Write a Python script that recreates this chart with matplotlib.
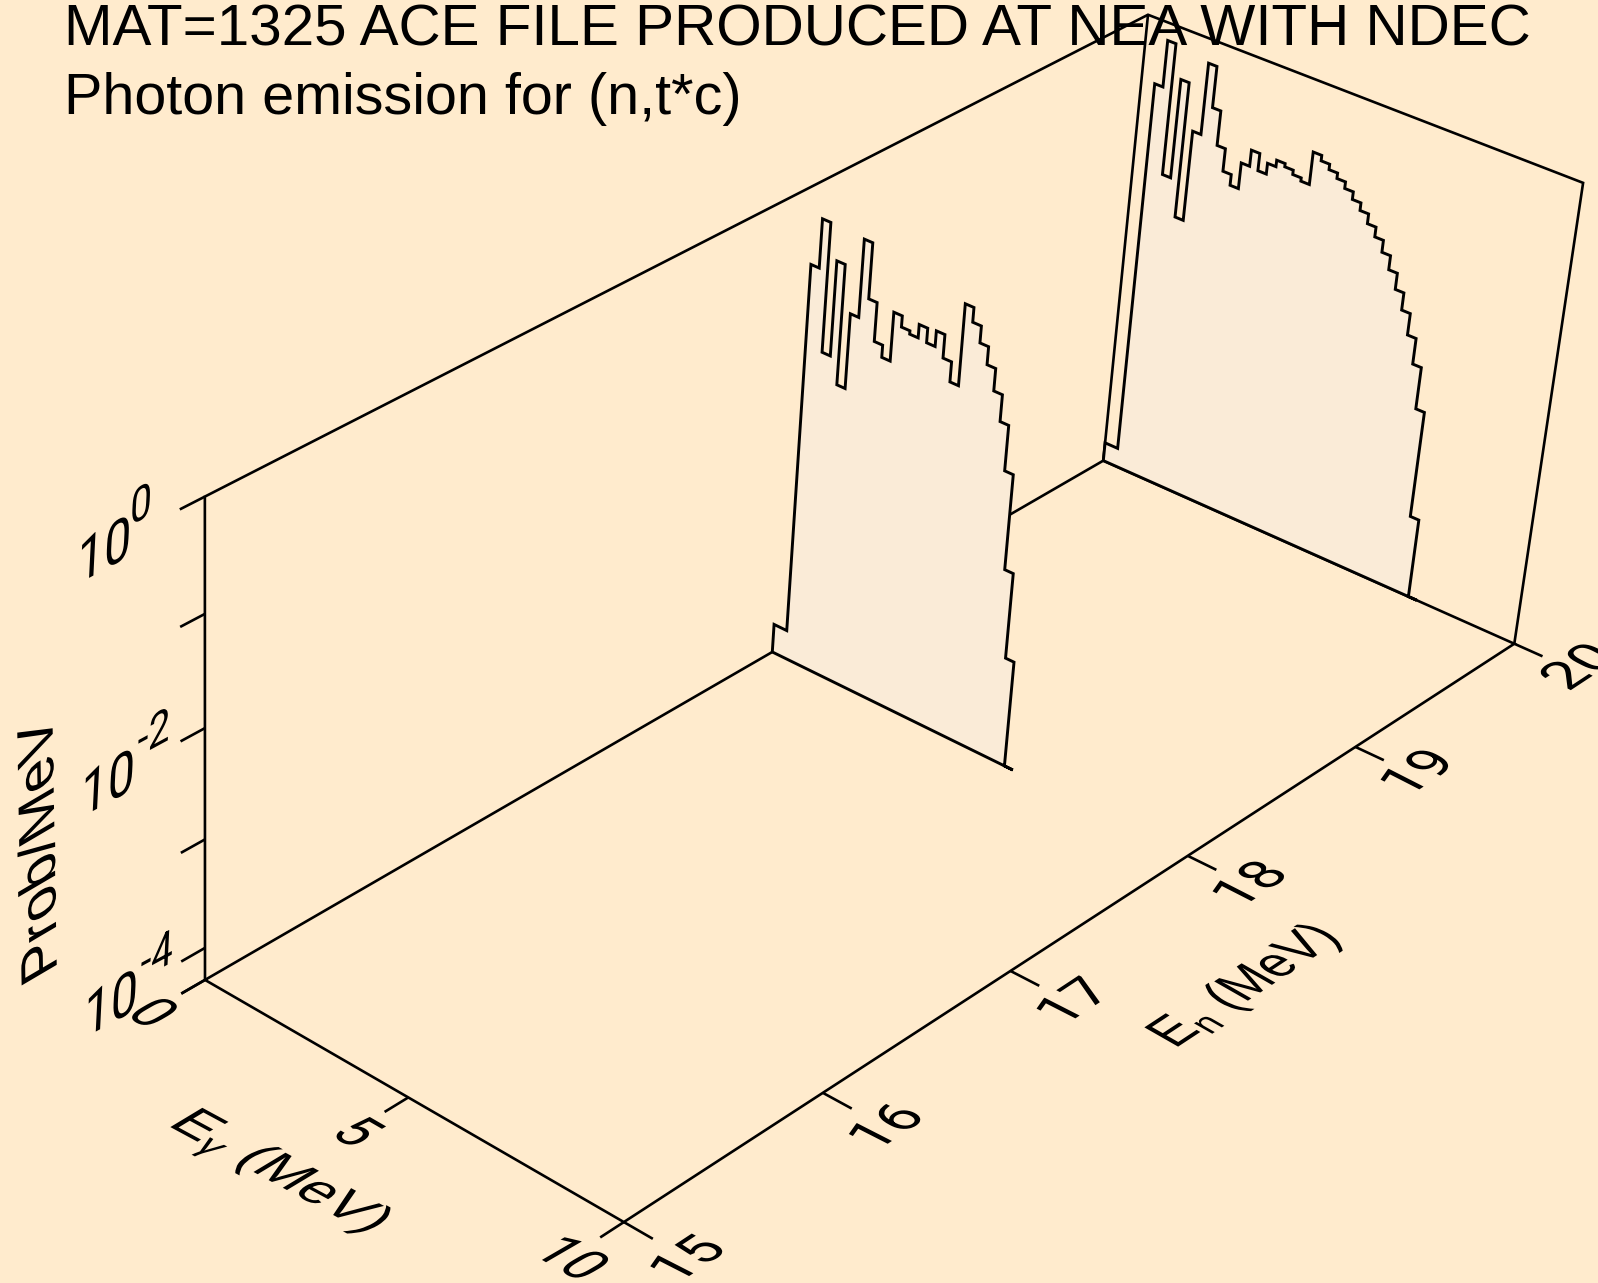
import numpy as np
import matplotlib
matplotlib.use("Agg")
import matplotlib.pyplot as plt
from matplotlib.patches import Polygon, PathPatch
from matplotlib.text import Text
from matplotlib.textpath import TextPath
from matplotlib.transforms import Affine2D

plt.rcParams.update({"font.family": "Liberation Sans", "mathtext.fontset": "custom",
                     "mathtext.rm": "Liberation Sans", "mathtext.it": "Liberation Sans:italic",
                     "mathtext.default": "regular"})

TITLE_1 = "MAT=1325 ACE FILE PRODUCED AT NEA WITH NDEC"
TITLE_2 = "Photon emission for (n,t*c)"

LOG_MIN = -4.3
EN_TICKS = [15, 16, 17, 18, 19, 20]
EG_TICKS = [0, 5, 10]
LOG_TICKS = [0, -1, -2, -3, -4]

# photon energy bin edges (MeV)
EG_EDGES = [0.0] + [round(0.32 + 0.2 * i, 2) for i in range(38)]

# incident neutron energies (MeV)
EN_LOW = 18
EN_HIGH = 20

# log10(Prob/MeV) in each photon bin
LOG_PROB_18 = [-4.03, -0.60, -0.16, -1.33, -0.47, -1.56, -0.88, -0.18, -0.68, -1.03,
               -1.14, -0.70, -0.80, -0.83, -0.71, -0.84, -0.70, -0.91, -1.09, -0.36,
               -0.49, -0.64, -0.80, -1.00, -1.24, -1.65, -2.52, -3.31, -4.30]
LOG_PROB_20 = [-4.12, -0.59, -0.16, -1.38, -0.46, -1.72, -0.88, -0.22, -0.60, -0.92,
               -1.13, -1.23, -0.99, -0.84, -1.00, -0.90, -0.84, -0.87, -0.91, -0.94,
               -0.64, -0.69, -0.74, -0.79, -0.85, -0.92, -0.99, -1.08, -1.17, -1.28,
               -1.41, -1.56, -1.72, -1.92, -2.16, -2.55, -3.55, -4.30]

# perspective of the 3-D box onto the picture (homogeneous matrix)
CAMERA = np.array([[407.6267, 74.00908, -5.05731, -5740.35635],
                   [-175.15505, 33.31209, -229.11229, 3534.08494],
                   [0.05506, -0.011, -0.02438, 1.0]])

W, H = 1598, 1283
BG = "#FFEBCD"
FILL = "#FAEBD7"
LW_AXIS = 1.9
LW_HIST = 2.1


def proj(en, eg, lz):
    en, eg, lz = np.broadcast_arrays(np.asarray(en, float), np.asarray(eg, float), np.asarray(lz, float))
    v = CAMERA @ np.vstack([en.ravel(), eg.ravel(), lz.ravel(), np.ones(en.size)])
    return v[0] / v[2], v[1] / v[2]


class SkewText(Text):
    """A text laid into one of the planes of the box."""

    def __init__(self, x, y, s, u, v, **kw):
        super().__init__(x, y, s, **kw)
        self._u, self._v = u, v

    def _parts(self):
        path = TextPath((0, 0), self.get_text(), size=1, prop=self.get_fontproperties())
        x, y = self.get_position()
        aff = Affine2D(np.array([[self._u[0], self._v[0], x],
                                 [self._u[1], self._v[1], y],
                                 [0, 0, 1]], float))
        return path, aff + self.axes.transData

    def get_window_extent(self, renderer=None, dpi=None):
        path, trans = self._parts()
        return path.get_extents(trans)

    def draw(self, renderer):
        path, trans = self._parts()
        patch = PathPatch(path, fc="black", ec="none", lw=0, transform=trans)
        patch.set_figure(self.get_figure())
        patch.draw(renderer)


fig = plt.figure(figsize=(W / 100, H / 100), dpi=100, facecolor=BG)
ax = fig.add_axes([0, 0, 1, 1])
ax.set_xlim(0, W)
ax.set_ylim(H, 0)
ax.axis("off")


def line3d(en, eg, lz, lw=LW_AXIS, z=2):
    x, y = proj(en, eg, lz)
    ax.plot(x, y, color="black", lw=lw, solid_capstyle="butt", solid_joinstyle="miter", zorder=z)


# box
en0, en1, eg0, eg1 = EN_TICKS[0], EN_TICKS[-1], EG_TICKS[0], EG_TICKS[-1]
line3d([en0, en1, en1, en0, en0], [eg0, eg0, eg1, eg1, eg0], LOG_MIN)
line3d([en0, en0, en1, en1, en1], [eg0, eg0, eg0, eg1, eg1], [LOG_MIN, 0, 0, 0, LOG_MIN])
line3d([en1, en1], [eg0, eg0], [LOG_MIN, 0])

# ticks
for lz in LOG_TICKS + [LOG_MIN]:
    line3d([en0, en0 - 0.115], eg0, lz)
for eg in EG_TICKS:
    line3d([en0, en0 - 0.115], eg, LOG_MIN)
for en in EN_TICKS:
    line3d(en, [eg1, eg1 + 0.65], LOG_MIN)


# spectra
def spectrum(en, logp, z):
    n = len(logp)
    e = np.array(EG_EDGES[:n + 1])
    es = np.concatenate([[e[0]], np.repeat(e, 2)[1:-1], [e[n]]])
    ls = np.concatenate([[LOG_MIN], np.repeat(logp, 2), [LOG_MIN]])
    x, y = proj(en, es, ls)
    ax.add_patch(Polygon(np.c_[x, y], closed=True, fc=FILL, ec="black", lw=LW_HIST,
                         joinstyle="miter", zorder=z))


spectrum(EN_LOW, LOG_PROB_18, 3)
spectrum(EN_HIGH, LOG_PROB_20, 4)

# titles
ax.text(64, 45, TITLE_1, fontsize=42.0, color="black", va="baseline", ha="left", zorder=5)
ax.text(64, 114, TITLE_2, fontsize=41.4, color="black", va="baseline", ha="left", zorder=5)


def skew(x, y, s, u, v, rot=0, family="Roboto"):
    ax.add_artist(SkewText(x, y, s, u, v, fontsize=36, rotation=rot, color="black", zorder=6,
                           family=family))


# log axis labels
Z_U, Z_V = (48, -26), (3, -61)
S_U, S_V = (38.4, -20.8), (2.4, -48.8)
skew(76.3, 584.8, "10", Z_U, Z_V, 28)
skew(80, 818, "10", Z_U, Z_V, 28)
skew(83, 1038.5, "10", Z_U, Z_V, 28)
skew(129.5, 526, "0", S_U, S_V, 28)
skew(137, 757, "-2", S_U, S_V, 28)
skew(140, 979.6, "-4", S_U, S_V, 28)
skew(56.8, 969.6, "Prob/MeV", (-1, -58), (-51, 30), 90, "Liberation Sans")

# photon energy labels
G_U, G_V = (45, 26), (50, -29)
skew(124, 1015, "0", G_U, G_V, -30)
skew(328, 1134, "5", G_U, G_V, -30)
skew(530, 1253, "10", G_U, G_V, -30)
skew(166, 1125, r"E$_{\gamma}$ (MeV)", (50, 27), (46.5, -28), -30, "Liberation Sans")

# neutron energy labels
N_U, N_V = (47, -31), (-49, -25)
for s, fx, fy in [("15", 690.7, 1275), ("16", 889.3, 1142.7), ("17", 1077, 1017.3),
                  ("18", 1253, 900), ("19", 1421, 788.3)]:
    skew(fx - 0.3 * N_U[0], fy - 0.3 * N_U[1], s, N_U, N_V, 33)
skew(1568, 692, "20", N_U, N_V, 33)
skew(1175, 1049, "E$_{n}$ (MeV)", (41, -27), (-49, -28), 33, "Liberation Sans")

fig.savefig("out.png", dpi=100, facecolor=BG)
